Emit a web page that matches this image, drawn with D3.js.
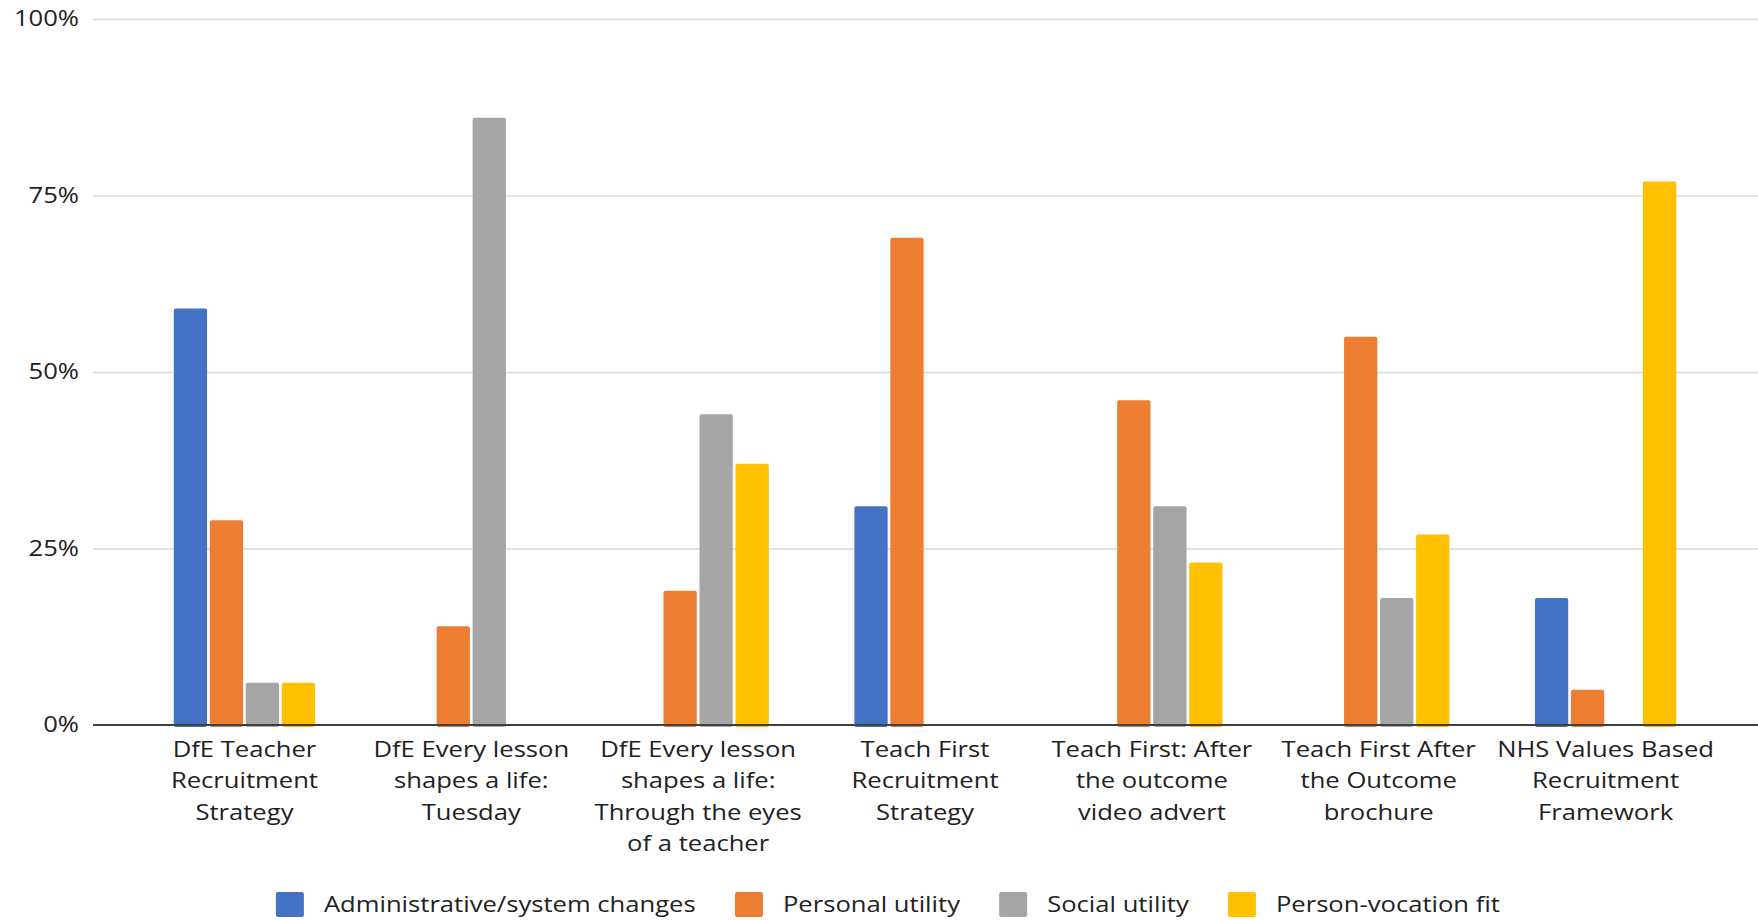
<!DOCTYPE html>
<html>
<head>
<meta charset="utf-8">
<script src="https://cdn.jsdelivr.net/npm/d3@7"></script>
<style>
  body { margin: 0; background: #fff; }
  text { font-family: "Open Sans", sans-serif; fill: #222; }
</style>
</head>
<body>
<svg id="chart"></svg>
<script>
// categories (wrapped the way the chart shows them)
var categories = [
  ["DfE Teacher", "Recruitment", "Strategy"],
  ["DfE Every lesson", "shapes a life:", "Tuesday"],
  ["DfE Every lesson", "shapes a life:", "Through the eyes", "of a teacher"],
  ["Teach First", "Recruitment", "Strategy"],
  ["Teach First: After", "the outcome", "video advert"],
  ["Teach First After", "the Outcome", "brochure"],
  ["NHS Values Based", "Recruitment", "Framework"]
];
var seriesNames = ["Administrative/system changes", "Personal utility", "Social utility", "Person-vocation fit"];
var seriesColors = ["#4472C4", "#ED7D31", "#A5A5A5", "#FFC000"];

// percentages, null = no bar
var adminValues    = [59, null, null, 31, null, null, 18];
var personalValues = [29, 14, 19, 69, 46, 55, 5];
var socialValues   = [6, 86, 44, null, 31, 18, null];
var vocationValues = [6, null, 37, null, 23, 27, 77];

var yTicks = [0, 25, 50, 75, 100];

var W = 1758, H = 920;
var stretch = 1.22;   // the source text is drawn wide
var svg = d3.select("#chart").attr("width", W).attr("height", H);

var allSeries = [adminValues, personalValues, socialValues, vocationValues];
var catIndex = d3.range(categories.length);

var xScale = d3.scaleBand()
    .domain(catIndex)
    .range([131, 1719]);
var x1 = d3.scaleBand()
    .domain(d3.range(seriesNames.length))
    .range([-72, 72])
    .paddingInner(0.075)
    .paddingOuter(0.0375);
var yScale = d3.scaleLinear()
    .domain([0, 100])
    .range([725, 19]);

// gridlines + y labels
var yAxis = svg.append("g")
    .attr("transform", "translate(93,0)")
    .call(d3.axisLeft(yScale)
        .tickValues(yTicks)
        .tickFormat(function(d) { return d + "%"; })
        .tickSize(-(W - 93))
        .tickPadding(14));
yAxis.select(".domain").remove();
yAxis.selectAll(".tick line")
    .attr("stroke", function(d) { return d === 0 ? "none" : "#D9D9D9"; })
    .attr("stroke-width", 1.5);
yAxis.selectAll(".tick text")
    .attr("font-size", 21)
    .attr("font-family", "Open Sans, sans-serif")
    .attr("fill", "#222")
    .attr("x", -14 / stretch)
    .attr("transform", "scale(" + stretch + ",1)");

// bars
var groups = svg.append("g").selectAll("g")
    .data(catIndex)
  .enter().append("g")
    .attr("transform", function(i) { return "translate(" + (xScale(i) + xScale.bandwidth() / 2) + ",0)"; });

groups.selectAll("rect")
    .data(function(i) {
        return allSeries.map(function(s, k) { return {k: k, v: s[i]}; })
            .filter(function(d) { return d.v != null; });
    })
  .enter().append("rect")
    .attr("x", function(d) { return x1(d.k); })
    .attr("width", x1.bandwidth())
    .attr("y", function(d) { return yScale(d.v); })
    .attr("height", function(d) { return yScale(0) - yScale(d.v) + 2; })
    .attr("rx", 2)
    .attr("fill", function(d) { return seriesColors[d.k]; });

// baseline axis
svg.append("line")
    .attr("x1", 93).attr("x2", W)
    .attr("y1", yScale(0)).attr("y2", yScale(0))
    .attr("stroke", "#404040")
    .attr("stroke-width", 2);

// category labels
var labels = svg.append("g").selectAll("text")
    .data(catIndex)
  .enter().append("text")
    .attr("text-anchor", "middle")
    .attr("font-size", 21)
    .attr("transform", function(i) {
        return "translate(" + (xScale(i) + xScale.bandwidth() / 2) + ",757) scale(" + stretch + ",1)";
    });
labels.selectAll("tspan")
    .data(function(i) { return categories[i]; })
  .enter().append("tspan")
    .attr("x", 0)
    .attr("dy", function(d, j) { return j === 0 ? 0 : 31.5; })
    .text(function(d) { return d; });

// legend
var legend = svg.append("g");
var items = legend.selectAll("g")
    .data(seriesNames)
  .enter().append("g");
items.append("rect")
    .attr("width", 28).attr("height", 25)
    .attr("y", 892)
    .attr("rx", 2)
    .attr("fill", function(d, k) { return seriesColors[k]; });
items.append("text")
    .attr("font-size", 21)
    .text(function(d) { return d; });

var pos = 0;
items.each(function() {
    var g = d3.select(this);
    var tw = g.select("text").node().getComputedTextLength() * stretch;
    g.select("rect").attr("x", pos);
    g.select("text").attr("transform", "translate(" + (pos + 48) + ",912) scale(" + stretch + ",1)");
    pos += 48 + tw + 39;
});
var total = pos - 39;
legend.attr("transform", "translate(" + (888 - total / 2) + ",0)");
</script>
</body>
</html>
